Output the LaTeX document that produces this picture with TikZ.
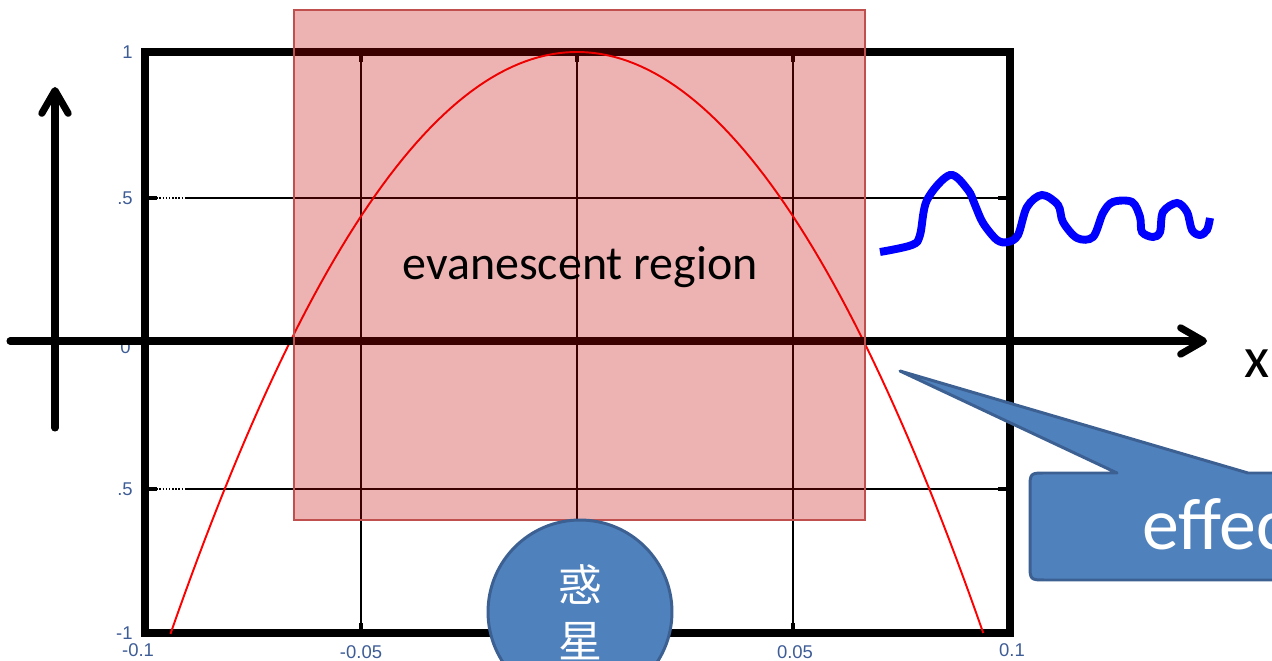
\documentclass[tikz,border=0pt]{standalone}
\usepackage{fontspec}
\setmainfont{Carlito}
\newfontfamily\cjkfont{Noto Sans CJK JP}
\newfontfamily\plotfont{Liberation Sans}
\usepackage{xcolor}
\usepackage{tikz}
\usetikzlibrary{arrows.meta}
\definecolor{ticklbl}{RGB}{62,92,150}
\definecolor{evafill}{RGB}{197,0,0}
\definecolor{evaedge}{RGB}{192,80,77}
\definecolor{planetfill}{RGB}{79,129,189}
\definecolor{planetedge}{RGB}{60,96,146}

\begin{document}
\begin{tikzpicture}[x=0.02cm,y=-0.02cm,
  frameline/.style={line width=4.5pt},
  gridline/.style={line width=0.8pt},
  tickmark/.style={line width=2.6pt},
  ticklabel/.style={font=\plotfont\fontsize{10.5}{12}\selectfont,text=ticklbl,inner sep=0pt},
  axisarrow/.style={line width=4pt,line cap=round,
    -{Straight Barb[length=13pt,width=15pt,line cap=round,round]}},
  evatext/.style={font=\fontsize{27.3}{32}\selectfont,inner sep=0pt},
  planet/.style={circle,fill=planetfill,draw=planetedge,line width=1.7pt,
    minimum size=3.68cm,inner sep=0pt,text=white,align=center,
    font=\cjkfont\fontsize{25}{32}\selectfont},
  callout/.style={fill=planetfill,draw=planetedge,line width=1.7pt,line join=round},
  calltext/.style={font=\fontsize{42}{48}\selectfont,text=white,inner sep=0pt}]
  \clip (0,0) rectangle (1272,661);
  \def\yzero{343}

  \foreach \gx in {361,577,793}{
    \draw[gridline] (\gx,52) -- (\gx,633);
    \draw[tickmark] (\gx,633) -- (\gx,623);
    \draw[tickmark] (\gx,52) -- (\gx,62);}
  \foreach \gy in {198,489}{
    \draw[gridline,densely dotted] (150,\gy) -- (185,\gy);
    \draw[gridline] (185,\gy) -- (1010,\gy);}
  \foreach \gy in {198,\yzero,489}{
    \draw[tickmark] (145,\gy) -- (157,\gy);
    \draw[tickmark] (1010,\gy) -- (998,\gy);}
  \draw[frameline] (145,52) rectangle (1010,633);

  \draw[red,line width=1.1pt] plot[domain=-1.4142:1.4142,samples=120]
    ({577+287.5*\x},{\yzero-291*(1-\x*\x)});

  \node[ticklabel,anchor=east] (ty1) at (133,52) {1};
  \node[ticklabel,anchor=east] (ty2) at (133,198) {.5};
  \node[ticklabel,anchor=east] (ty3) at (131,347) {0};
  \node[ticklabel,anchor=east] (ty4) at (133,489) {.5};
  \node[ticklabel,anchor=east] (ty5) at (133,633) {-1};
  \foreach \lx/\ly/\lt [count=\i] in {138/650/-0.1,361/652/-0.05,795/652/0.05,1012/650/0.1}
    {\node[ticklabel] (tx\i) at (\lx,\ly) {\lt};}

  \coordinate (xstart) at (10,341);
  \coordinate (xend) at (1207,341);
  \coordinate (ystart) at (55,428);
  \coordinate (yend) at (55,87);
  \draw[axisarrow] (xstart) -- (xend);
  \draw[axisarrow] (ystart) -- (yend);
  \node[font=\fontsize{33}{40}\selectfont,inner sep=0pt] (xlbl) at (1257,364) {x};

  \fill[evafill,fill opacity=0.3] (294,10) rectangle (865,520);
  \draw[evaedge,line width=1.2pt] (294,10) rectangle (865,520);
  \node[evatext,anchor=base] (eva) at (580,280) {evanescent region};

  \draw[blue,line width=4.5pt] plot[smooth,tension=0.55] coordinates {
    (880,252) (912,245) (920,235) (927,200) (950,175) (968,190) (975,205)
    (983,223) (997,240) (1008,242) (1018,235) (1027,207) (1042,195)
    (1058,205) (1063,222) (1077,238) (1093,237) (1103,213) (1113,202)
    (1132,202) (1140,217) (1142,232) (1153,237) (1160,232) (1163,212)
    (1177,203) (1187,212) (1192,230) (1200,235) (1207,230) (1210,218)};

  \node[planet] (planet) at (580,612) {惑\\星};

  \coordinate (calltip) at (900,371);
  \filldraw[callout] (1290,473) -- (1248,473) -- (calltip) -- (1117,473)
    -- (1046,473) .. controls (1030,473) .. (1030,489) -- (1030,564)
    .. controls (1030,580) .. (1046,580) -- (1290,580) -- cycle;
  \node[calltext,anchor=base west] (effec) at (1142,550) {effec};
\end{tikzpicture}
\end{document}
